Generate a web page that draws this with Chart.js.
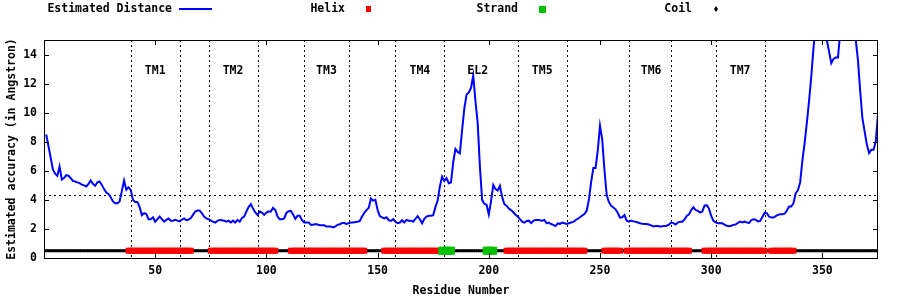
<!DOCTYPE html>
<html>
<head>
<meta charset="utf-8">
<script src="https://cdn.jsdelivr.net/npm/chart.js@4.4.1/dist/chart.umd.min.js"></script>
<style>
  body { margin: 0; background: #fff; }
</style>
</head>
<body>
<canvas id="chart" width="900" height="300"></canvas>
<script>
// estimated distance per residue (1..375)
const distance = [
  8.5, 7.7, 6.9, 6.1, 5.8, 5.65, 6.3, 5.4, 5.5, 5.7,
  5.66, 5.5, 5.3, 5.26, 5.2, 5.15, 5.05, 5.0, 4.92, 5.1,
  5.33, 5.1, 4.97, 5.2, 5.26, 5.03, 4.74, 4.5, 4.41, 4.18,
  3.89, 3.77, 3.77, 3.89, 4.6, 5.33, 4.7, 4.87, 4.69, 4.0,
  3.85, 3.85, 3.5, 2.95, 3.08, 3.03, 2.67, 2.67, 2.8, 2.5,
  2.67, 2.85, 2.67, 2.5, 2.62, 2.72, 2.57, 2.57, 2.62, 2.57,
  2.52, 2.65, 2.72, 2.6, 2.65, 2.75, 2.97, 3.2, 3.26, 3.26,
  3.08, 2.85, 2.72, 2.67, 2.57, 2.5, 2.44, 2.55, 2.62, 2.6,
  2.57, 2.5, 2.57, 2.44, 2.57, 2.44, 2.62, 2.5, 2.75, 2.85,
  3.2, 3.5, 3.7, 3.4, 3.13, 2.97, 3.2, 3.13, 2.97, 3.13,
  3.2, 3.2, 3.45, 3.3, 2.85, 2.67, 2.67, 2.72, 3.1, 3.22,
  3.24, 3.0, 2.7, 2.9, 2.9, 2.6, 2.44, 2.44, 2.44, 2.28,
  2.28, 2.33, 2.3, 2.25, 2.25, 2.25, 2.16, 2.16, 2.16, 2.11,
  2.18, 2.28, 2.32, 2.4, 2.4, 2.34, 2.39, 2.44, 2.44, 2.48,
  2.5, 2.55, 2.85, 3.1, 3.3, 3.45, 4.1, 3.95, 4.0, 3.3,
  2.88, 2.8, 2.72, 2.8, 2.6, 2.55, 2.67, 2.5, 2.39, 2.44,
  2.6, 2.44, 2.62, 2.57, 2.57, 2.5, 2.7, 2.88, 2.67, 2.39,
  2.7, 2.85, 2.9, 2.9, 2.95, 3.5, 3.95, 4.92, 5.6, 5.3,
  5.49, 5.15, 5.2, 6.6, 7.5, 7.3, 7.2, 8.8, 10.3, 11.24,
  11.4, 11.7, 12.55, 10.8, 9.3, 6.3, 4.0, 3.73, 3.66, 3.0,
  3.9, 5.03, 4.75, 4.65, 4.97, 4.2, 3.7, 3.6, 3.4, 3.3,
  3.15, 2.98, 2.85, 2.67, 2.5, 2.43, 2.55, 2.57, 2.4, 2.55,
  2.62, 2.62, 2.6, 2.57, 2.62, 2.39, 2.44, 2.34, 2.28, 2.2,
  2.38, 2.35, 2.44, 2.39, 2.34, 2.39, 2.44, 2.48, 2.6, 2.7,
  2.8, 2.92, 3.03, 3.25, 4.0, 5.2, 6.2, 6.2, 7.4, 9.1,
  8.14, 6.07, 4.35, 3.85, 3.6, 3.48, 3.35, 3.1, 2.78, 2.8,
  2.95, 2.57, 2.5, 2.57, 2.52, 2.5, 2.44, 2.39, 2.36, 2.34,
  2.34, 2.3, 2.24, 2.17, 2.2, 2.2, 2.17, 2.18, 2.2, 2.22,
  2.3, 2.44, 2.4, 2.3, 2.44, 2.5, 2.5, 2.65, 2.9, 3.0,
  3.3, 3.49, 3.3, 3.24, 3.13, 3.2, 3.6, 3.64, 3.4, 2.9,
  2.55, 2.45, 2.39, 2.39, 2.39, 2.3, 2.22, 2.18, 2.22, 2.28,
  2.3, 2.42, 2.5, 2.45, 2.5, 2.45, 2.4, 2.6, 2.67, 2.63,
  2.52, 2.55, 2.82, 3.1, 3.08, 2.85, 2.78, 2.78, 2.88, 2.97,
  3.01, 3.01, 3.05, 3.25, 3.54, 3.54, 3.77, 4.46, 4.66, 5.2,
  6.7, 7.9, 9.3, 10.8, 12.5, 14.46, 16, 17, 17.5, 17,
  16, 15, 14.2, 13.4, 13.7, 13.8, 13.8, 15.5, 16.5, 17,
  17.5, 17.5, 17, 16, 15, 13.6, 11.47, 9.6, 8.7, 7.8,
  7.22, 7.45, 7.45, 8.02, 9.9
];

// secondary structure segments: first residue and type (H helix, E strand, C coil)
const ssStart = [1, 38, 67, 75, 105, 111, 145, 153, 179, 184, 199, 203, 208, 244, 252, 260, 262, 291, 297, 325, 327, 338];
const ssType  = ['C', 'H', 'C', 'H', 'C', 'H', 'C', 'H', 'E', 'C', 'E', 'C', 'H', 'C', 'H', 'C', 'H', 'C', 'H', 'C', 'H', 'C'];
const ssLevel = 0.5;

// region boundaries and labels
const regionBounds = [39, 61, 74, 96, 117, 137, 158, 180, 213, 235, 263, 282, 302, 324];
const regionLabels = ['TM1', 'TM2', 'TM3', 'TM4', 'EL2', 'TM5', 'TM6', 'TM7'];
const regionLabelPos = [50, 85, 127, 169, 195, 224, 273, 313];
const regionLabelLevel = 12.9;
const threshold = 4.35;

const xTicks = [50, 100, 150, 200, 250, 300, 350];
const yTicks = [0, 2, 4, 6, 8, 10, 12, 14];

const FONT = 'DejaVu Sans Mono';
Chart.defaults.font.family = FONT;
Chart.defaults.font.weight = 'bold';
Chart.defaults.font.size = 11.5;
Chart.defaults.color = '#000';

const ssData = { H: [], E: [], C: [] };
for (let r = 1; r <= distance.length; r++) {
  let k = 0;
  while (k + 1 < ssStart.length && ssStart[k + 1] <= r) k++;
  ssData[ssType[k]].push({ x: r, y: ssLevel });
}

// dotted guide lines under the data
const guides = {
  id: 'guides',
  beforeDatasetsDraw(chart) {
    const { ctx, chartArea, scales } = chart;
    ctx.save();
    ctx.strokeStyle = '#000';
    ctx.lineWidth = 1;
    ctx.setLineDash([2, 3]);
    regionBounds.forEach(b => {
      const x = Math.round(scales.x.getPixelForValue(b)) + 0.5;
      ctx.beginPath();
      ctx.moveTo(x, chartArea.top);
      ctx.lineTo(x, chartArea.bottom);
      ctx.stroke();
    });
    const y = Math.round(scales.y.getPixelForValue(threshold)) + 0.5;
    ctx.beginPath();
    ctx.moveTo(chartArea.left, y);
    ctx.lineTo(chartArea.right, y);
    ctx.stroke();
    ctx.restore();
  }
};

// frame, inward ticks, region labels and the legend row
const decorations = {
  id: 'decorations',
  afterDraw(chart) {
    const { ctx, chartArea: a, scales } = chart;
    ctx.save();
    ctx.strokeStyle = '#000';
    ctx.lineWidth = 1;
    ctx.strokeRect(a.left + 0.5, a.top + 0.5, a.right - a.left - 1, a.bottom - a.top);
    ctx.beginPath();
    xTicks.forEach(v => {
      const x = Math.round(scales.x.getPixelForValue(v)) + 0.5;
      ctx.moveTo(x, a.bottom); ctx.lineTo(x, a.bottom - 5);
      ctx.moveTo(x, a.top); ctx.lineTo(x, a.top + 5);
    });
    yTicks.forEach(v => {
      const y = Math.round(scales.y.getPixelForValue(v)) + 0.5;
      ctx.moveTo(a.left, y); ctx.lineTo(a.left + 5, y);
      ctx.moveTo(a.right, y); ctx.lineTo(a.right - 5, y);
    });
    ctx.stroke();

    ctx.fillStyle = '#000';
    ctx.font = 'bold 11.5px ' + FONT;
    ctx.textAlign = 'center';
    ctx.textBaseline = 'middle';
    regionLabels.forEach((t, i) => {
      ctx.fillText(t, scales.x.getPixelForValue(regionLabelPos[i]), scales.y.getPixelForValue(regionLabelLevel));
    });

    // legend, gnuplot style: text then sample
    const ly = 9;
    ctx.textAlign = 'right';
    ctx.fillText('Estimated Distance', 172, ly);
    ctx.fillText('Helix', 345, ly);
    ctx.fillText('Strand', 518, ly);
    ctx.fillText('Coil', 692, ly);
    ctx.strokeStyle = '#0000ff';
    ctx.lineWidth = 2;
    ctx.beginPath();
    ctx.moveTo(179, ly); ctx.lineTo(212, ly);
    ctx.stroke();
    ctx.fillStyle = '#ff0000';
    ctx.fillRect(366, ly - 3, 5, 6);
    ctx.fillStyle = '#00c000';
    ctx.fillRect(539, ly - 3, 7, 7);
    ctx.fillStyle = '#000';
    ctx.beginPath();
    ctx.moveTo(716, ly - 3); ctx.lineTo(718, ly); ctx.lineTo(716, ly + 3); ctx.lineTo(714, ly);
    ctx.fill();
    ctx.restore();
  }
};

new Chart(document.getElementById('chart'), {
  type: 'scatter',
  data: {
    datasets: [
      {
        label: 'Estimated Distance',
        data: distance.map((v, i) => ({ x: i + 1, y: v })),
        showLine: true,
        borderColor: '#0000ff',
        borderWidth: 2,
        pointRadius: 0,
        tension: 0,
        clip: 0
      },
      {
        label: 'Strand',
        data: ssData.E,
        pointStyle: 'rect',
        pointRadius: 5.6,
        pointBorderWidth: 0,
        backgroundColor: '#00c000'
      },
      {
        label: 'Helix',
        data: ssData.H,
        pointStyle: 'rect',
        pointRadius: 4.2,
        pointBorderWidth: 0,
        backgroundColor: '#ff0000'
      },
      {
        label: 'Coil',
        data: ssData.C,
        pointStyle: 'rect',
        pointRadius: 2.1,
        pointBorderWidth: 0,
        backgroundColor: '#000'
      }
    ]
  },
  options: {
    responsive: false,
    animation: false,
    devicePixelRatio: 1,
    events: [],
    layout: { padding: { top: 40, right: 22, left: 0, bottom: 0 } },
    plugins: {
      legend: { display: false },
      tooltip: { enabled: false }
    },
    scales: {
      x: {
        type: 'linear',
        min: 0,
        max: 375,
        grid: { display: false, drawTicks: false },
        border: { display: false },
        afterBuildTicks: s => { s.ticks = xTicks.map(v => ({ value: v })); },
        afterFit: s => { s.height = 42; },
        ticks: { padding: 6, maxRotation: 0 },
        title: { display: true, text: 'Residue Number', padding: { top: 0, bottom: 2 } }
      },
      y: {
        min: 0,
        max: 15,
        grid: { display: false, drawTicks: false },
        border: { display: false },
        afterBuildTicks: s => { s.ticks = yTicks.map(v => ({ value: v })); },
        afterFit: s => { s.width = 44; },
        ticks: { padding: 7 },
        title: { display: true, text: 'Estimated accuracy (in Angstron)', padding: { top: 5, bottom: 0 } }
      }
    }
  },
  plugins: [guides, decorations]
});
</script>
</body>
</html>
